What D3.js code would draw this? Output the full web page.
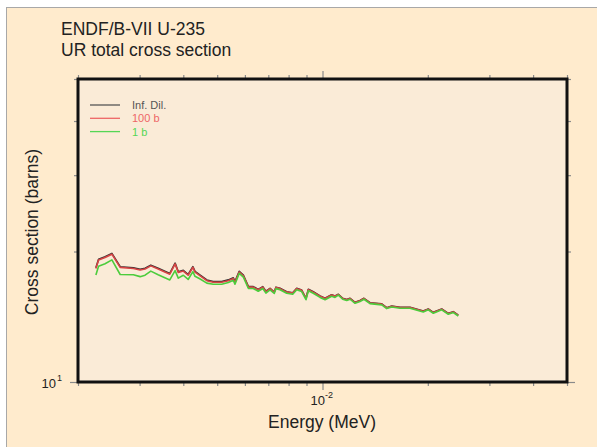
<!DOCTYPE html>
<html>
<head>
<meta charset="utf-8">
<script src="https://cdn.jsdelivr.net/npm/d3@7"></script>
<style>
  body { margin: 0; background: #fff; }
  svg { display: block; font-family: "Liberation Sans", Arial, sans-serif; }
</style>
</head>
<body>
<svg width="597" height="447"></svg>
<script>
// energies in MeV (unresolved range, 2.25 - 25 keV)
const energy = [
  2.25e-3, 2.29e-3, 2.39e-3, 2.50e-3, 2.64e-3, 2.88e-3, 3.01e-3, 3.11e-3, 3.23e-3, 3.39e-3,
  3.66e-3, 3.79e-3, 3.87e-3, 4.00e-3, 4.13e-3, 4.26e-3, 4.32e-3, 4.47e-3, 4.67e-3, 4.87e-3,
  5.15e-3, 5.38e-3, 5.56e-3, 5.62e-3, 5.78e-3, 5.94e-3, 6.14e-3, 6.34e-3, 6.55e-3, 6.75e-3,
  6.89e-3, 7.08e-3, 7.28e-3, 7.36e-3, 7.56e-3, 7.90e-3, 8.22e-3, 8.44e-3, 8.72e-3, 8.97e-3,
  9.11e-3, 9.41e-3, 9.84e-3, 1.017e-2, 1.062e-2, 1.086e-2, 1.110e-2, 1.142e-2, 1.173e-2, 1.199e-2,
  1.239e-2, 1.280e-2, 1.314e-2, 1.367e-2, 1.477e-2, 1.526e-2, 1.577e-2, 1.666e-2, 1.779e-2, 1.941e-2,
  2.006e-2, 2.074e-2, 2.192e-2, 2.289e-2, 2.366e-2, 2.444e-2
];

// cross sections in barns
const infDil = [
  18.35, 19.20, 19.45, 19.80, 18.45, 18.35, 18.20, 18.30, 18.60, 18.30,
  17.80, 18.80, 17.97, 18.10, 17.70, 18.45, 18.00, 17.65, 17.20, 17.05,
  17.05, 17.20, 17.40, 17.05, 18.00, 17.65, 16.60, 16.60, 16.36, 16.60,
  16.20, 16.45, 16.13, 16.55, 16.45, 16.15, 16.07, 16.45, 16.30, 15.60,
  16.36, 16.15, 15.80, 15.60, 15.90, 15.80, 15.94, 15.60, 15.50, 15.60,
  15.27, 15.42, 15.60, 15.24, 15.14, 14.84, 14.97, 14.87, 14.87, 14.58,
  14.74, 14.48, 14.74, 14.40, 14.53, 14.27
];

const dil100 = [
  18.28, 19.12, 19.37, 19.72, 18.38, 18.28, 18.13, 18.23, 18.53, 18.23,
  17.73, 18.73, 17.90, 18.03, 17.63, 18.38, 17.93, 17.58, 17.13, 16.98,
  16.98, 17.13, 17.33, 16.98, 17.93, 17.58, 16.55, 16.55, 16.32, 16.55,
  16.16, 16.42, 16.10, 16.52, 16.42, 16.12, 16.04, 16.42, 16.27, 15.58,
  16.33, 16.12, 15.78, 15.58, 15.88, 15.78, 15.92, 15.58, 15.48, 15.58,
  15.25, 15.40, 15.58, 15.22, 15.12, 14.82, 14.95, 14.85, 14.85, 14.56,
  14.72, 14.46, 14.72, 14.38, 14.51, 14.25
];

const dil1 = [
  17.65, 18.50, 18.74, 19.13, 17.70, 17.67, 17.50, 17.64, 18.02, 17.68,
  17.20, 18.07, 17.36, 17.63, 17.24, 17.97, 17.53, 17.28, 16.91, 16.81,
  16.81, 16.96, 17.16, 16.81, 17.81, 17.46, 16.43, 16.43, 16.19, 16.43,
  16.03, 16.32, 16.00, 16.42, 16.32, 16.02, 15.94, 16.32, 16.17, 15.48,
  16.23, 16.02, 15.67, 15.48, 15.77, 15.67, 15.86, 15.52, 15.42, 15.52,
  15.19, 15.34, 15.52, 15.16, 15.06, 14.77, 14.90, 14.80, 14.80, 14.51,
  14.67, 14.41, 14.67, 14.33, 14.46, 14.20
];

const seriesNames = ["Inf. Dil.", "100 b", "1 b"];
const seriesColors = ["#333333", "#d84444", "#4ccc3c"];
const legendColors = ["#555555", "#ee6666", "#55d655"];

const xDomain = [2e-3, 5e-2];
const yDomain = [10, 50];
const xTicks = [2e-3, 3e-3, 4e-3, 5e-3, 6e-3, 7e-3, 8e-3, 9e-3, 1e-2, 2e-2, 3e-2, 4e-2, 5e-2];
const yTicks = [10, 20, 30, 40, 50];

const svg = d3.select("svg");
const plot = { left: 78, right: 567, top: 79, bottom: 382 };

// outer panel with grey frame line
svg.append("rect")
  .attr("x", 6.5).attr("y", 7.5)
  .attr("width", 600).attr("height", 450)
  .attr("fill", "#ffebcd")
  .attr("stroke", "#a8a8a8")
  .attr("stroke-width", 1);

const x = d3.scaleLog().domain(xDomain).range([plot.left, plot.right]);
const y = d3.scaleLog().domain(yDomain).range([plot.bottom, plot.top]);

svg.append("rect")
  .attr("x", plot.left).attr("y", plot.top)
  .attr("width", plot.right - plot.left)
  .attr("height", plot.bottom - plot.top)
  .attr("fill", "#faebd7");

// ticks: major ones (decades) are a bit longer
const tickLen = d => (d === 1e-2 || d === 10 ? 8 : 4);

function drawAxis(gen, ticks, tx, ty) {
  const g = svg.append("g").attr("transform", `translate(${tx},${ty})`)
    .call(gen.tickValues(ticks).tickFormat("").tickSizeOuter(0));
  g.select(".domain").remove();
  g.selectAll(".tick line").attr("stroke", "#8a8a8a").attr("stroke-width", 1.2);
  return g;
}

const gb = drawAxis(d3.axisBottom(x), xTicks, 0, plot.bottom);
gb.selectAll(".tick line").attr("y2", d => tickLen(d));
const gt = drawAxis(d3.axisTop(x), xTicks, 0, plot.top);
gt.selectAll(".tick line").attr("y2", d => -tickLen(d));
const gl = drawAxis(d3.axisLeft(y), yTicks, plot.left, 0);
gl.selectAll(".tick line").attr("x2", d => -tickLen(d));
const gr = drawAxis(d3.axisRight(y), yTicks, plot.right, 0);
gr.selectAll(".tick line").attr("x2", d => tickLen(d));

// curves
const line = d3.line().x(d => x(d[0])).y(d => y(d[1]));
[infDil, dil100, dil1].forEach((vals, i) => {
  svg.append("path")
    .datum(energy.map((e, k) => [e, vals[k]]))
    .attr("d", line)
    .attr("fill", "none")
    .attr("stroke", seriesColors[i])
    .attr("stroke-width", 1.6)
    .attr("stroke-linejoin", "round");
});

// frame
svg.append("rect")
  .attr("x", plot.left).attr("y", plot.top)
  .attr("width", plot.right - plot.left)
  .attr("height", plot.bottom - plot.top)
  .attr("fill", "none")
  .attr("stroke", "#111")
  .attr("stroke-width", 3);

// tick labels with superscripts
const yl = svg.append("text").attr("x", 62).attr("y", 388)
  .attr("text-anchor", "end").attr("font-size", 13).attr("fill", "#222");
yl.append("tspan").text("10");
yl.append("tspan").attr("dy", -7).attr("dx", 1).attr("font-size", 9).text("1");

const xl = svg.append("text").attr("x", x(1e-2) - 12).attr("y", 405)
  .attr("font-size", 13).attr("fill", "#222");
xl.append("tspan").text("10");
xl.append("tspan").attr("dy", -7).attr("font-size", 9).text("-2");

// titles
svg.append("text").attr("x", 61).attr("y", 35)
  .attr("font-size", 17.5).attr("fill", "#222").text("ENDF/B-VII U-235");
svg.append("text").attr("x", 61).attr("y", 56)
  .attr("font-size", 17.5).attr("fill", "#222").text("UR total cross section");

svg.append("text")
  .attr("x", (plot.left + plot.right) / 2 - 0.5).attr("y", 428)
  .attr("text-anchor", "middle").attr("font-size", 17.5).attr("fill", "#222")
  .text("Energy (MeV)");

svg.append("text")
  .attr("transform", "translate(38,232) rotate(-90)")
  .attr("text-anchor", "middle").attr("font-size", 17.5).attr("fill", "#222")
  .text("Cross section (barns)");

// legend
const legend = svg.append("g");
seriesNames.forEach((name, i) => {
  const ly = 105 + i * 13.3;
  legend.append("line")
    .attr("x1", 90).attr("x2", 120).attr("y1", ly).attr("y2", ly)
    .attr("stroke", legendColors[i]).attr("stroke-width", 1.3);
  legend.append("text")
    .attr("x", 132).attr("y", ly + 4)
    .attr("font-size", 11).attr("fill", legendColors[i])
    .text(name);
});
</script>
</body>
</html>
